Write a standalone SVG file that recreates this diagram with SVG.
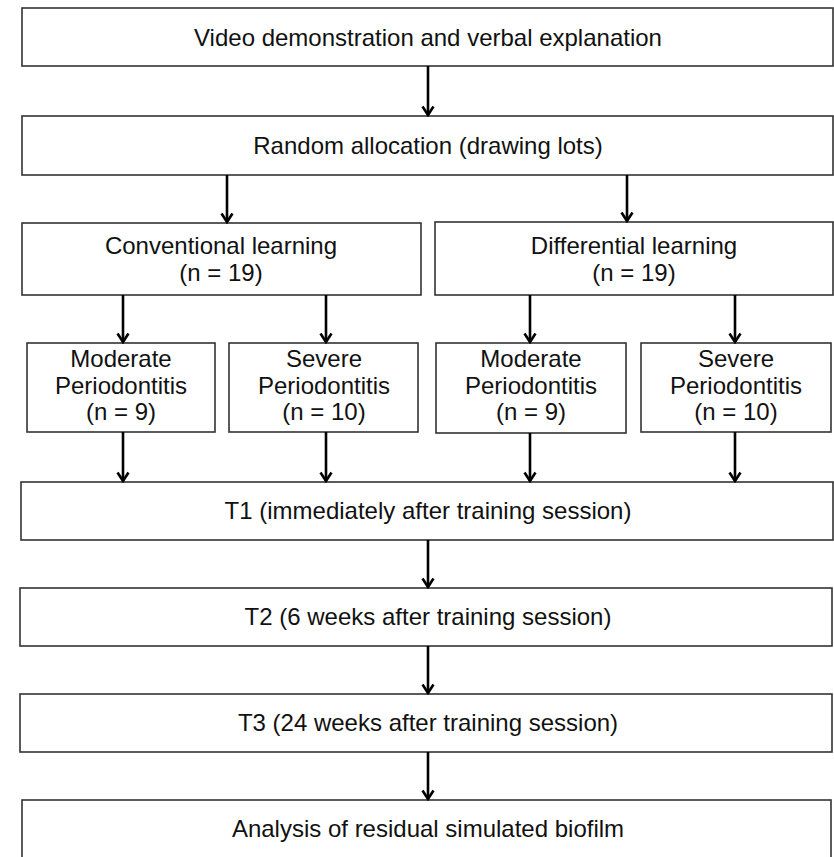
<svg xmlns="http://www.w3.org/2000/svg" width="834" height="857" viewBox="0 0 834 857">
<style>
  .box { fill: #ffffff; stroke: #333333; stroke-width: 1.6; }
  .t { font-family: "Liberation Sans", Arial, sans-serif; font-size: 24px; fill: #111111; text-anchor: middle; }
  .c { stroke: #000000; stroke-width: 2.6; fill: none; }
</style>
<defs>
  <marker id="ah" viewBox="0 0 12 14" refX="10.5" refY="7" markerWidth="12" markerHeight="14" markerUnits="userSpaceOnUse" orient="auto">
    <path d="M2,1.5 L10.5,7 L2,12.5" fill="none" stroke="#000" stroke-width="2.6"/>
  </marker>
</defs>
<rect x="0" y="0" width="834" height="857" fill="#ffffff"/>

<g id="n-video">
  <rect class="box" x="22" y="8" width="811" height="58"/>
  <text class="t" x="428" y="46">Video demonstration and verbal explanation</text>
</g>
<g id="n-random">
  <rect class="box" x="22" y="116" width="811" height="59"/>
  <text class="t" x="428" y="154">Random allocation (drawing lots)</text>
</g>
<g id="n-conventional">
  <rect class="box" x="22" y="223" width="399" height="72"/>
  <text class="t" x="221" y="254">Conventional learning</text>
  <text class="t" x="221" y="281">(n = 19)</text>
</g>
<g id="n-differential">
  <rect class="box" x="435" y="222" width="398" height="73"/>
  <text class="t" x="634" y="254">Differential learning</text>
  <text class="t" x="634" y="281">(n = 19)</text>
</g>
<g id="n-conv-moderate">
  <rect class="box" x="27" y="343" width="188" height="89"/>
  <text class="t" x="121" y="367">Moderate</text>
  <text class="t" x="121" y="394">Periodontitis</text>
  <text class="t" x="121" y="420">(n = 9)</text>
</g>
<g id="n-conv-severe">
  <rect class="box" x="229" y="343" width="189" height="89"/>
  <text class="t" x="324" y="367">Severe</text>
  <text class="t" x="324" y="394">Periodontitis</text>
  <text class="t" x="324" y="420">(n = 10)</text>
</g>
<g id="n-diff-moderate">
  <rect class="box" x="436" y="343" width="190" height="90"/>
  <text class="t" x="531" y="367">Moderate</text>
  <text class="t" x="531" y="394">Periodontitis</text>
  <text class="t" x="531" y="420">(n = 9)</text>
</g>
<g id="n-diff-severe">
  <rect class="box" x="641" y="343" width="190" height="89"/>
  <text class="t" x="736" y="367">Severe</text>
  <text class="t" x="736" y="394">Periodontitis</text>
  <text class="t" x="736" y="420">(n = 10)</text>
</g>
<g id="n-t1">
  <rect class="box" x="21" y="482" width="812" height="58"/>
  <text class="t" x="428" y="519">T1 (immediately after training session)</text>
</g>
<g id="n-t2">
  <rect class="box" x="20" y="588" width="812" height="58"/>
  <text class="t" x="428" y="625">T2 (6 weeks after training session)</text>
</g>
<g id="n-t3">
  <rect class="box" x="20" y="694" width="812" height="58"/>
  <text class="t" x="428" y="731">T3 (24 weeks after training session)</text>
</g>
<g id="n-analysis">
  <rect class="box" x="22" y="800" width="809" height="60"/>
  <text class="t" x="428" y="837">Analysis of residual simulated biofilm</text>
</g>

<g id="connectors">
  <line class="c" x1="428" y1="66" x2="428" y2="115" marker-end="url(#ah)"/>
  <line class="c" x1="227" y1="175" x2="227" y2="222" marker-end="url(#ah)"/>
  <line class="c" x1="627" y1="175" x2="627" y2="221" marker-end="url(#ah)"/>
  <line class="c" x1="123" y1="295" x2="123" y2="342" marker-end="url(#ah)"/>
  <line class="c" x1="326" y1="295" x2="326" y2="342" marker-end="url(#ah)"/>
  <line class="c" x1="530" y1="295" x2="530" y2="342" marker-end="url(#ah)"/>
  <line class="c" x1="735" y1="295" x2="735" y2="342" marker-end="url(#ah)"/>
  <line class="c" x1="123" y1="432" x2="123" y2="481" marker-end="url(#ah)"/>
  <line class="c" x1="326" y1="432" x2="326" y2="481" marker-end="url(#ah)"/>
  <line class="c" x1="530" y1="433" x2="530" y2="481" marker-end="url(#ah)"/>
  <line class="c" x1="735" y1="432" x2="735" y2="481" marker-end="url(#ah)"/>
  <line class="c" x1="428" y1="540" x2="428" y2="587" marker-end="url(#ah)"/>
  <line class="c" x1="428" y1="646" x2="428" y2="693" marker-end="url(#ah)"/>
  <line class="c" x1="428" y1="752" x2="428" y2="799" marker-end="url(#ah)"/>
</g>
</svg>
